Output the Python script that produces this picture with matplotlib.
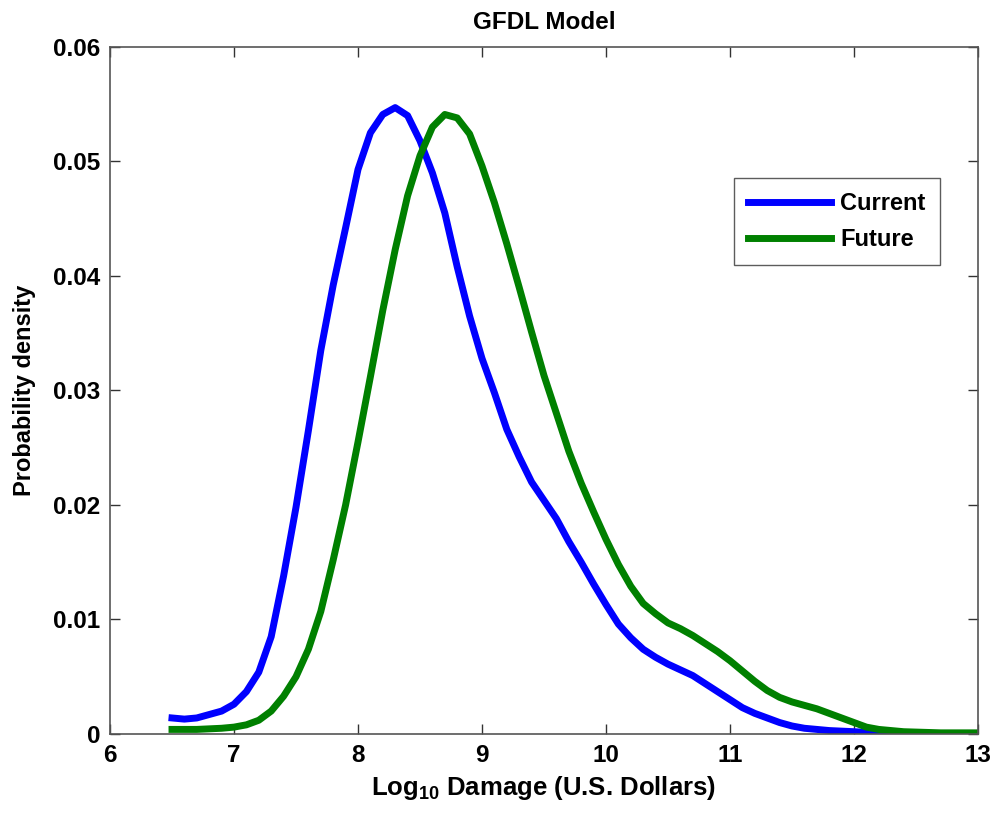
import matplotlib
matplotlib.use("Agg")
import matplotlib.pyplot as plt

plt.rcParams["font.family"] = ["Liberation Sans", "DejaVu Sans"]
plt.rcParams["font.weight"] = "bold"
plt.rcParams["mathtext.fontset"] = "custom"
plt.rcParams["mathtext.rm"] = "Liberation Sans:bold"
plt.rcParams["mathtext.bf"] = "Liberation Sans:bold"
plt.rcParams["mathtext.default"] = "bf"

# Current climate
cur_x = [6.5, 6.6, 6.7, 6.8, 6.9, 7.0, 7.1, 7.2, 7.3, 7.4, 7.5, 7.6, 7.7, 7.8, 7.9,
         8.0, 8.1, 8.2, 8.3, 8.4, 8.5, 8.6, 8.7, 8.8, 8.9, 9.0, 9.1, 9.2, 9.3, 9.4,
         9.5, 9.6, 9.7, 9.8, 9.9, 10.0, 10.1, 10.2, 10.3, 10.4, 10.5, 10.6, 10.7,
         10.8, 10.9, 11.0, 11.1, 11.2, 11.3, 11.4, 11.5, 11.6, 11.8, 12.0, 12.2,
         12.5, 13.0]
cur_y = [0.0014, 0.0013, 0.0014, 0.0017, 0.0020, 0.0026, 0.0037, 0.0054, 0.0085,
         0.0138, 0.0198, 0.0265, 0.0335, 0.0392, 0.0442, 0.0493, 0.0525, 0.0541,
         0.0547, 0.0540, 0.0518, 0.0490, 0.0455, 0.0408, 0.0365, 0.0328, 0.0298,
         0.0266, 0.0242, 0.0220, 0.0204, 0.0188, 0.0168, 0.0150, 0.0131, 0.0113,
         0.0096, 0.0084, 0.0074, 0.0067, 0.0061, 0.0056, 0.0051, 0.0044, 0.0037,
         0.0030, 0.0023, 0.0018, 0.0014, 0.0010, 0.0007, 0.0005, 0.0003, 0.0002,
         0.0001, 0.0, 0.0]

# Future climate
fut_x = [6.5, 6.7, 6.9, 7.0, 7.1, 7.2, 7.3, 7.4, 7.5, 7.6, 7.7, 7.8, 7.9, 8.0,
         8.1, 8.2, 8.3, 8.4, 8.5, 8.6, 8.7, 8.8, 8.9, 9.0, 9.1, 9.2, 9.3, 9.4,
         9.5, 9.6, 9.7, 9.8, 9.9, 10.0, 10.1, 10.2, 10.3, 10.4, 10.5, 10.6, 10.7,
         10.8, 10.9, 11.0, 11.1, 11.2, 11.3, 11.4, 11.5, 11.6, 11.7, 11.8, 11.9,
         12.0, 12.1, 12.2, 12.4, 12.7, 13.0]
fut_y = [0.0004, 0.0004, 0.0005, 0.0006, 0.0008, 0.0012, 0.0020, 0.0033, 0.0050,
         0.0074, 0.0107, 0.0152, 0.0200, 0.0255, 0.0312, 0.0370, 0.0423, 0.0470,
         0.0505, 0.0530, 0.0541, 0.0538, 0.0524, 0.0496, 0.0464, 0.0428, 0.0390,
         0.0351, 0.0313, 0.0280, 0.0247, 0.0219, 0.0194, 0.0170, 0.0148, 0.0129,
         0.0114, 0.0105, 0.0097, 0.0092, 0.0086, 0.0079, 0.0072, 0.0064, 0.0055,
         0.0046, 0.0038, 0.0032, 0.0028, 0.0025, 0.0022, 0.0018, 0.0014, 0.0010,
         0.0006, 0.0004, 0.0002, 0.0001, 0.0001]

x_ticks = [6, 7, 8, 9, 10, 11, 12, 13]
y_ticks = [0, 0.01, 0.02, 0.03, 0.04, 0.05, 0.06]
y_labels = ["0", "0.01", "0.02", "0.03", "0.04", "0.05", "0.06"]

fig = plt.figure(figsize=(10, 8.16), dpi=100)
ax = fig.add_axes([0.110, 0.1005, 0.868, 0.842])
ax.plot(cur_x, cur_y, color="#0000ff", lw=5, label="Current")
ax.plot(fut_x, fut_y, color="#008000", lw=5, label="Future")

ax.set_xlim(6, 13)
ax.set_ylim(0, 0.06)
ax.set_xticks(x_ticks)
ax.set_xticklabels([str(t) for t in x_ticks])
ax.set_yticks(y_ticks)
ax.set_yticklabels(y_labels)
ax.tick_params(direction="in", top=True, right=True, length=7, width=1,
               labelsize=17.5, pad=7, color="#333333")
for lab in ax.get_xticklabels() + ax.get_yticklabels():
    lab.set_fontweight("bold")
for sp in ax.spines.values():
    sp.set_color("#555555")
    sp.set_linewidth(1.2)

ax.set_title("GFDL Model", fontsize=17.5, fontweight="bold", pad=13)
ax.set_xlabel(r"Log$_{10}$ Damage (U.S. Dollars)", fontsize=18.5, fontweight="bold", labelpad=5)
ax.set_ylabel("Probability density", fontsize=17, fontweight="bold", labelpad=12)

leg = ax.legend(loc="upper right", bbox_to_anchor=(0.956, 0.809), fontsize=17,
                frameon=True, fancybox=False, edgecolor="#333333",
                handlelength=3.5, handletextpad=0.4, borderpad=0.6,
                labelspacing=0.55, borderaxespad=0)
leg.get_frame().set_linewidth(1)
for t in leg.get_texts():
    t.set_fontweight("bold")

fig.savefig("out.png", dpi=100)
